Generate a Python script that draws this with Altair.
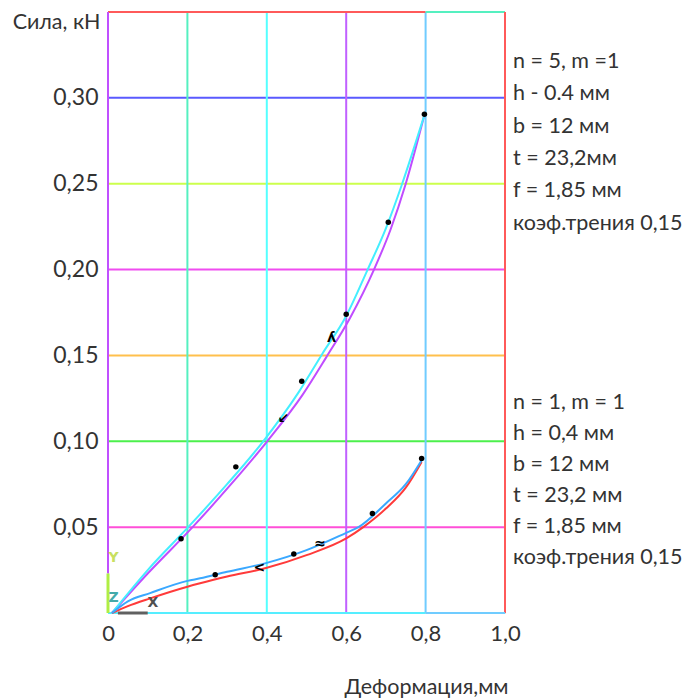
import altair as alt
import pandas as pd

# ---- data ----
x_ticks = [0, 0.2, 0.4, 0.6, 0.8, 1.0]
x_tick_labels = ["0", "0,2", "0,4", "0,6", "0,8", "1,0"]
y_ticks = [0.05, 0.10, 0.15, 0.20, 0.25, 0.30]
y_tick_labels = ["0,05", "0,10", "0,15", "0,20", "0,25", "0,30"]

# upper pair (n = 5)
up_cyan_x = [0.01, 0.10, 0.202, 0.30, 0.391, 0.48, 0.54, 0.60, 0.654, 0.70, 0.741, 0.797]
up_cyan_y = [0.0, 0.025, 0.050, 0.075, 0.100, 0.1285, 0.151, 0.173, 0.200, 0.224, 0.250, 0.290]
up_purp_x = [0.01, 0.10, 0.213, 0.31, 0.401, 0.49, 0.55, 0.61, 0.670, 0.712, 0.750, 0.797]
up_purp_y = [0.0, 0.023, 0.050, 0.075, 0.100, 0.127, 0.149, 0.172, 0.200, 0.2235, 0.250, 0.290]
# lower pair (n = 1)
lo_blue_x = [0.01, 0.05, 0.106, 0.20, 0.232, 0.30, 0.40, 0.50, 0.60, 0.631, 0.70, 0.75, 0.79]
lo_blue_y = [0.0, 0.0068, 0.0116, 0.0187, 0.0202, 0.0240, 0.0292, 0.0366, 0.0467, 0.050, 0.0638, 0.075, 0.089]
lo_red_x = [0.01, 0.05, 0.106, 0.20, 0.232, 0.30, 0.40, 0.50, 0.60, 0.643, 0.70, 0.75, 0.79]
lo_red_y = [0.0, 0.004, 0.0085, 0.0153, 0.0173, 0.0212, 0.0263, 0.0337, 0.0434, 0.050, 0.0608, 0.073, 0.088]

dots_x = [0.184, 0.322, 0.488, 0.600, 0.706, 0.797, 0.270, 0.468, 0.666, 0.790]
dots_y = [0.0432, 0.0851, 0.135, 0.174, 0.2275, 0.2905, 0.0223, 0.0343, 0.058, 0.090]

h_grid_y = [0.05, 0.10, 0.15, 0.20, 0.25, 0.30]
h_grid_c = ["#ff4fd8", "#4cf04c", "#ffc04c", "#f04cf0", "#ccff4c", "#5a5aff"]
v_grid_x = [0.2, 0.4, 0.6, 0.8]
v_grid_c = ["#55f0c0", "#55ffff", "#c060ff", "#70ccff"]

# frame segments
seg_x = [0.0, 0.8, 1.0, 0.0, 0.0, 0.8, 0.0, 0.025]
seg_x2 = [0.8, 1.0, 1.0, 0.0, 0.8, 1.0, 0.0, 0.10]
seg_y = [0.35, 0.35, 0.0, 0.023, 0.0, 0.0, 0.0, 0.0]
seg_y2 = [0.35, 0.35, 0.35, 0.35, 0.0, 0.0, 0.023, 0.0]
seg_c = ["#ff5a5a", "#55f0c0", "#ff5a5a", "#c050ff", "#55eeff", "#70ccff", "#b0ee44", "#606060"]
seg_w = [2, 2, 2, 2, 2, 2, 3, 3]

block1 = ["n = 5, m =1", "h - 0.4  мм", "b = 12  мм", "t = 23,2мм", "f = 1,85 мм", "коэф.трения 0,15"]
block2 = ["n = 1, m = 1", "h = 0,4  мм", "b = 12   мм", "t = 23,2  мм", "f = 1,85 мм", "коэф.трения 0,15"]

FONT = "Lato"
TXT = "#333333"

# ---- tables ----
curves = pd.concat([
    pd.DataFrame({"x": up_purp_x, "y": up_purp_y, "s": "up_purple", "i": range(len(up_purp_x))}),
    pd.DataFrame({"x": up_cyan_x, "y": up_cyan_y, "s": "up_cyan", "i": range(len(up_cyan_x))}),
    pd.DataFrame({"x": lo_red_x, "y": lo_red_y, "s": "lo_red", "i": range(len(lo_red_x))}),
    pd.DataFrame({"x": lo_blue_x, "y": lo_blue_y, "s": "lo_blue", "i": range(len(lo_blue_x))}),
])
dots = pd.DataFrame({"x": dots_x, "y": dots_y})
hgrid = pd.DataFrame({"y": h_grid_y, "c": h_grid_c})
vgrid = pd.DataFrame({"x": v_grid_x, "c": v_grid_c})
segs = pd.DataFrame({"x": seg_x, "x2": seg_x2, "y": seg_y, "y2": seg_y2, "c": seg_c, "w": seg_w})

xlab = "{" + ",".join(f"'{v:.2f}':'{l}'" for v, l in zip(x_ticks, x_tick_labels)) + "}"
ylab = "{" + ",".join(f"'{v:.2f}':'{l}'" for v, l in zip(y_ticks, y_tick_labels)) + "}"

xs = alt.Scale(domain=[0, 1.0], nice=False, zero=False)
ys = alt.Scale(domain=[0, 0.35], nice=False, zero=False)

x_axis = alt.Axis(values=x_ticks, labelExpr=f"{xlab}[format(datum.value, '.2f')]", domain=False, ticks=False,
                  grid=False, labelFont=FONT, labelFontSize=22, labelColor=TXT, labelPadding=10,
                  labelFlush=False,
                  title="Деформация,мм", titleFont=FONT, titleFontSize=21.5, titleFontWeight="normal",
                  titleColor=TXT, titleX=318, titleY=80, titleAlign="center", titleBaseline="alphabetic")
y_axis = alt.Axis(values=y_ticks, labelExpr=f"{ylab}[format(datum.value, '.2f')]", domain=False, ticks=False,
                  grid=False, labelFont=FONT, labelFontSize=23, labelColor=TXT, labelPadding=10,
                  labelFlush=False,
                  title="Сила, кН", titleFont=FONT, titleFontSize=21.5, titleFontWeight="normal",
                  titleColor=TXT, titleAngle=0, titleX=-8, titleY=16, titleAlign="right",
                  titleBaseline="alphabetic")

hg = alt.Chart(hgrid).mark_rule(strokeWidth=2).encode(
    y=alt.Y("y:Q", scale=ys, axis=y_axis), color=alt.Color("c:N", scale=None))
vg = alt.Chart(vgrid).mark_rule(strokeWidth=2).encode(
    x=alt.X("x:Q", scale=xs, axis=x_axis), color=alt.Color("c:N", scale=None))
sg = alt.Chart(segs).mark_rule().encode(
    x=alt.X("x:Q", scale=xs), x2="x2:Q", y=alt.Y("y:Q", scale=ys), y2="y2:Q",
    color=alt.Color("c:N", scale=None), strokeWidth=alt.StrokeWidth("w:Q", scale=None))

lines = alt.Chart(curves).mark_line(strokeWidth=2, interpolate="monotone").encode(
    x=alt.X("x:Q", scale=xs), y=alt.Y("y:Q", scale=ys), order="i:Q",
    color=alt.Color("s:N", scale=alt.Scale(domain=["up_purple", "up_cyan", "lo_red", "lo_blue"],
                                           range=["#c04cff", "#44eeff", "#ff3a3a", "#3aa8ff"]), legend=None),
    detail="s:N")
pts = alt.Chart(dots).mark_circle(size=30, color="black", opacity=1).encode(
    x=alt.X("x:Q", scale=xs), y=alt.Y("y:Q", scale=ys))

# small axis triad near origin and arrow marks on the curves
tri = pd.DataFrame({"x": [0.014, 0.014, 0.113, 0.563, 0.442, 0.381, 0.534],
                    "y": [0.032, 0.009, 0.006, 0.160, 0.113, 0.026, 0.040],
                    "t": ["Y", "Z", "X", "ʎ", "↙", "<", "≈"],
                    "c": ["#c8e060", "#44aaaa", "#505050", "black", "black", "black", "black"]})
tri_l = alt.Chart(tri).mark_text(font="DejaVu Sans", fontSize=14, fontWeight="bold").encode(
    x=alt.X("x:Q", scale=xs), y=alt.Y("y:Q", scale=ys), text="t:N", color=alt.Color("c:N", scale=None))

one = pd.DataFrame({"a": [0]})
ann1 = alt.Chart(one).mark_text(font=FONT, fontSize=21.5, color=TXT, align="left", baseline="middle",
                                lineHeight=32.3).encode(
    x=alt.value(405), y=alt.value(50), text=alt.value(block1))
ann2 = alt.Chart(one).mark_text(font=FONT, fontSize=21.5, color=TXT, align="left", baseline="middle",
                                lineHeight=31).encode(
    x=alt.value(405), y=alt.value(391), text=alt.value(block2))

chart = alt.layer(hg, vg, sg, lines, pts, tri_l, ann1, ann2).properties(
    width=397, height=601,
    autosize=alt.AutoSizeParams(type="none"),
    padding={"left": 100, "top": 4, "right": 187, "bottom": 87},
).configure_view(stroke=None).configure(background="white")

chart.save("out.html", embed_options={"renderer": "svg", "actions": False})
